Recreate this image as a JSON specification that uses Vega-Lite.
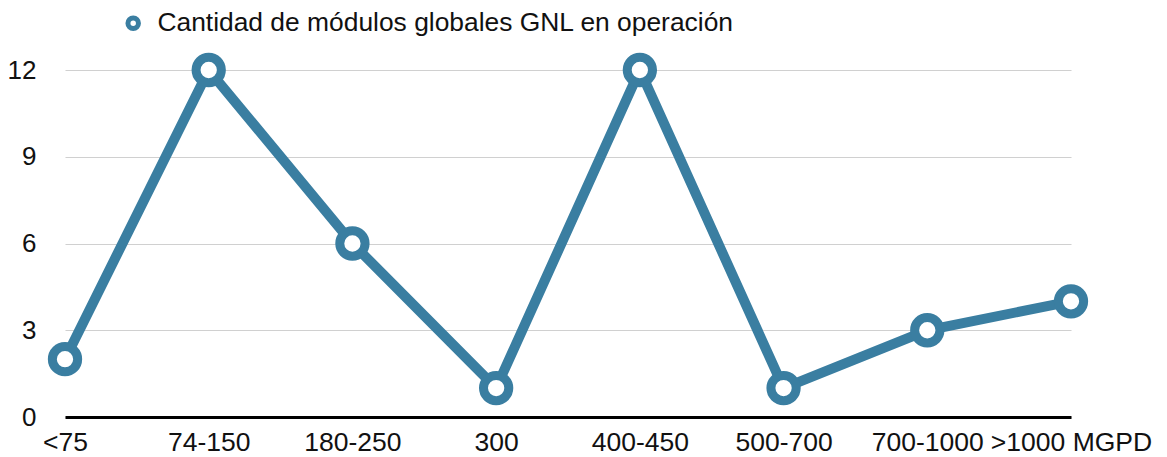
{
  "$schema": "https://vega.github.io/schema/vega-lite/v6.json",
  "width": 1006,
  "height": 347,
  "autosize": {"type": "none"},
  "padding": {"left": 65, "top": 70, "right": 96, "bottom": 40},
  "background": "white",
  "config": {"view": {"stroke": null}, "font": "Liberation Sans"},
  "data": {"values": [
    {"rango": "<75", "cantidad": 2, "serie": "Cantidad de módulos globales GNL en operación"},
    {"rango": "74-150", "cantidad": 12, "serie": "Cantidad de módulos globales GNL en operación"},
    {"rango": "180-250", "cantidad": 6, "serie": "Cantidad de módulos globales GNL en operación"},
    {"rango": "300", "cantidad": 1, "serie": "Cantidad de módulos globales GNL en operación"},
    {"rango": "400-450", "cantidad": 12, "serie": "Cantidad de módulos globales GNL en operación"},
    {"rango": "500-700", "cantidad": 1, "serie": "Cantidad de módulos globales GNL en operación"},
    {"rango": "700-1000", "cantidad": 3, "serie": "Cantidad de módulos globales GNL en operación"},
    {"rango": ">1000 MGPD", "cantidad": 4, "serie": "Cantidad de módulos globales GNL en operación"}
  ]},
  "encoding": {
    "x": {"field": "rango", "type": "ordinal", "sort": null,
      "scale": {"type": "point", "padding": 0},
      "axis": {"title": null, "labelAngle": 0, "labelFontSize": 26.5, "labelColor": "#111", "labelPadding": 12,
        "ticks": false, "domainColor": "#000", "domainWidth": 3, "grid": false, "labelFont": "Liberation Sans"}},
    "y": {"field": "cantidad", "type": "quantitative",
      "scale": {"domain": [0, 12], "nice": false},
      "axis": {"title": null, "values": [0, 3, 6, 9, 12], "labelFontSize": 26, "labelColor": "#111", "labelPadding": 29,
        "ticks": false, "domain": false, "grid": true, "gridColor": "#d0d0d0", "gridWidth": 1.2, "labelFont": "Liberation Sans"}}
  },
  "layer": [
    {"mark": {"type": "line", "color": "#3a7ea1", "strokeWidth": 10}},
    {"mark": {"type": "point", "shape": "circle", "filled": false, "fill": "white", "fillOpacity": 1, "strokeWidth": 9, "size": 640, "opacity": 1},
      "encoding": {
        "color": {"field": "serie", "type": "nominal",
          "scale": {"range": ["#3a7ea1"]},
          "legend": {"title": null, "orient": "none", "legendX": 55, "legendY": -60,
            "labelFontSize": 26.4, "labelColor": "#111", "labelFont": "Liberation Sans", "labelLimit": 800, "symbolSize": 110,
            "symbolStrokeWidth": 5, "symbolFillColor": "white", "symbolType": "circle", "labelOffset": 11}}
      }}
  ]
}
